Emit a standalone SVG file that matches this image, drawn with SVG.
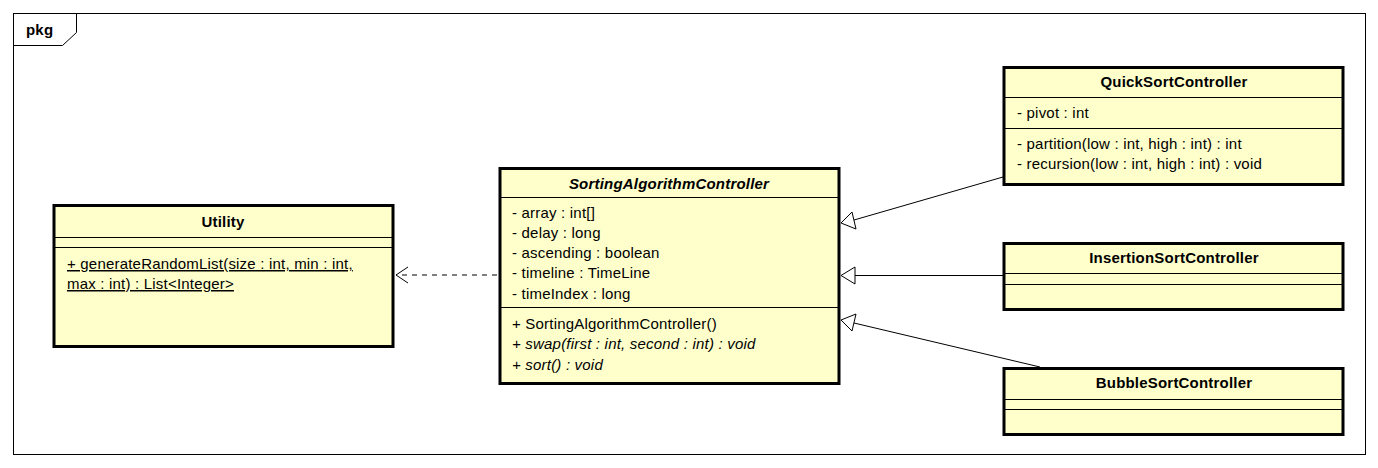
<svg xmlns="http://www.w3.org/2000/svg" width="1378" height="468" viewBox="0 0 1378 468">
<style>
.box{fill:#FFFFCC;stroke:#000;stroke-width:3}
.sep{stroke:#000;stroke-width:1}
text{font-family:"Liberation Sans",Arial,sans-serif;font-size:15px;letter-spacing:0.2px;fill:#000}
.t{font-weight:bold;text-anchor:middle}
.i{font-style:italic}
.u{text-decoration:underline}
.ln{stroke:#000;stroke-width:1;fill:none}
.hd{fill:#fff;stroke:#000;stroke-width:1}
</style>
<rect width="1378" height="468" fill="#fff"/>
<g id="pkg">
<rect x="13.5" y="13.5" width="1352" height="441" fill="none" stroke="#000"/>
<path d="M13.5 45.5 H62.5 L76.5 32.5 V13.5" fill="none" stroke="#000"/>
<text x="26" y="35" style="font-weight:bold">pkg</text>
</g>
<g id="connectors">
<line class="ln" x1="497" y1="275" x2="396" y2="275" stroke-dasharray="5,5"/>
<path class="ln" d="M408 267 L396 275 L408 283"/>
<line class="ln" x1="1003" y1="177" x2="854" y2="220"/>
<path class="hd" d="M841 223 L852 212 L856 229 Z"/>
<line class="ln" x1="1003" y1="275.5" x2="855" y2="275.5"/>
<path class="hd" d="M841 275.5 L855 267 L855 284 Z"/>
<line class="ln" x1="1040" y1="367" x2="854" y2="323"/>
<path class="hd" d="M841 320 L856 314 L852 331 Z"/>
</g>
<g id="Utility">
<rect class="box" x="54" y="205.5" width="339" height="141"/>
<line class="sep" x1="54" y1="237.5" x2="393" y2="237.5"/>
<line class="sep" x1="54" y1="247.5" x2="393" y2="247.5"/>
<text class="t" x="223" y="227">Utility</text>
<text class="u" x="67" y="269">+ generateRandomList(size : int, min : int,</text>
<text class="u" x="67" y="289">max : int) : List&lt;Integer&gt;</text>
</g>
<g id="SortingAlgorithmController">
<rect class="box" x="500" y="168.5" width="339" height="215"/>
<line class="sep" x1="500" y1="197.5" x2="839" y2="197.5"/>
<line class="sep" x1="500" y1="307.5" x2="839" y2="307.5"/>
<text class="t i" x="669" y="189">SortingAlgorithmController</text>
<text x="512" y="218">- array : int[]</text>
<text x="512" y="238">- delay : long</text>
<text x="512" y="258">- ascending : boolean</text>
<text x="512" y="278">- timeline : TimeLine</text>
<text x="512" y="299">- timeIndex : long</text>
<text x="512" y="329">+ SortingAlgorithmController()</text>
<text class="i" x="512" y="349">+ swap(first : int, second : int) : void</text>
<text class="i" x="512" y="370">+ sort() : void</text>
</g>
<g id="QuickSortController">
<rect class="box" x="1004" y="67.5" width="339" height="117"/>
<line class="sep" x1="1004" y1="97.5" x2="1343" y2="97.5"/>
<line class="sep" x1="1004" y1="128.5" x2="1343" y2="128.5"/>
<text class="t" x="1174" y="87">QuickSortController</text>
<text x="1017" y="118">- pivot : int</text>
<text x="1017" y="149">- partition(low : int, high : int) : int</text>
<text x="1017" y="169">- recursion(low : int, high : int) : void</text>
</g>
<g id="InsertionSortController">
<rect class="box" x="1004" y="243.5" width="339" height="66"/>
<line class="sep" x1="1004" y1="273.5" x2="1343" y2="273.5"/>
<line class="sep" x1="1004" y1="284.5" x2="1343" y2="284.5"/>
<text class="t" x="1174" y="263">InsertionSortController</text>
</g>
<g id="BubbleSortController">
<rect class="box" x="1004" y="368.5" width="339" height="66"/>
<line class="sep" x1="1004" y1="399.5" x2="1343" y2="399.5"/>
<line class="sep" x1="1004" y1="409.5" x2="1343" y2="409.5"/>
<text class="t" x="1174" y="388">BubbleSortController</text>
</g>
</svg>
